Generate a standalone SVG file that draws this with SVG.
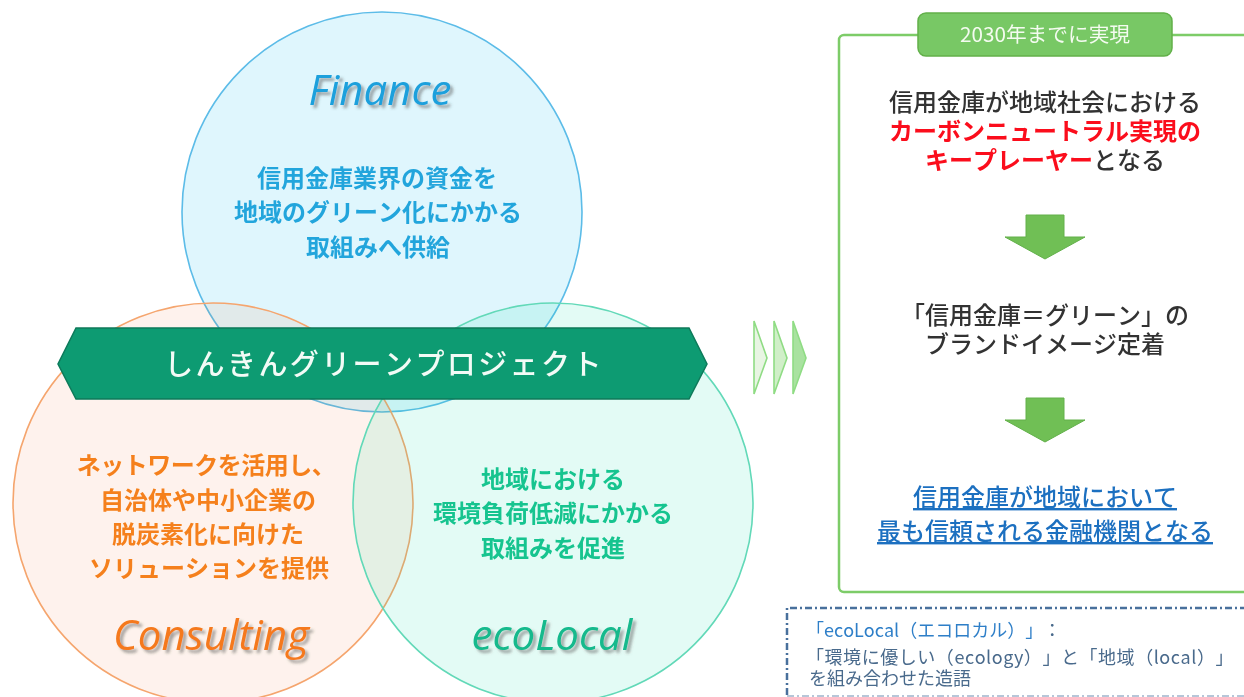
<svg xmlns="http://www.w3.org/2000/svg" width="1244" height="697" viewBox="0 0 1244 697">
<defs>
<filter id="soft" x="-5%" y="-5%" width="110%" height="110%"><feGaussianBlur stdDeviation="0.55"/></filter>
<filter id="shadow" x="-20%" y="-30%" width="140%" height="170%"><feDropShadow dx="3" dy="3" stdDeviation="1.5" flood-color="#555" flood-opacity="0.55"/></filter>
<polygon id="down" points="-19,0 19,0 19,22 40,22 0,44 -40,22 -19,22"/>
</defs>
<style>
text{font-family:"Noto Sans CJK JP","Noto Sans",sans-serif;text-anchor:middle;font-kerning:none;text-spacing-trim:space-all}
.c{font-size:24px;font-weight:700}
.logo{font-family:"Open Sans","Noto Sans",sans-serif;font-size:42px;font-style:italic;font-weight:400;filter:url(#shadow)}
.b{font-size:24px;font-weight:500;fill:#333}
.l{font-size:24px;font-weight:500;fill:#1c6fc0;text-decoration:underline}
.n{font-size:18px;fill:#4a6a8c;text-anchor:start}
.arrow{fill:#70bf55;stroke:#62b04a;stroke-width:1}
.chev{stroke:#8fdc84;stroke-width:1.6}
</style>
<g filter="url(#soft)">
<g id="finance">
<circle cx="382" cy="212" r="200" fill="#00b4f0" fill-opacity="0.125" stroke="#5cbce8" stroke-width="1.6"/>
<text class="logo" x="380" y="105" fill="#1ca0dc">Finance</text>
<text class="c" fill="#22a5dc" x="377" y="187">信用金庫業界の資金を</text>
<text class="c" fill="#22a5dc" x="378" y="221">地域のグリーン化にかかる</text>
<text class="c" fill="#22a5dc" x="378" y="256">取組みへ供給</text>
</g>
<g id="consulting">
<circle cx="213" cy="503" r="200" fill="#f97a28" fill-opacity="0.09" stroke="#f5a56e" stroke-width="1.6"/>
<text class="logo" x="211" y="650" fill="#f5791f">Consulting</text>
<text class="c" fill="#f5801f" x="206" y="474" letter-spacing="-0.5">ネットワークを活用し、</text>
<text class="c" fill="#f5801f" x="208" y="509">自治体や中小企業の</text>
<text class="c" fill="#f5801f" x="208" y="543">脱炭素化に向けた</text>
<text class="c" fill="#f5801f" x="209" y="577">ソリューションを提供</text>
</g>
<g id="ecolocal">
<circle cx="553" cy="503" r="200" fill="#10d8a8" fill-opacity="0.11" stroke="#62d9b8" stroke-width="1.6"/>
<text class="logo" x="552" y="650" fill="#12b98c">ecoLocal</text>
<text class="c" fill="#14c48f" x="553" y="488">地域における</text>
<text class="c" fill="#14c48f" x="553" y="522">環境負荷低減にかかる</text>
<text class="c" fill="#14c48f" x="553" y="557">取組みを促進</text>
</g>
<g id="project">
<polygon points="76,328 689,328 707,364 689,399 76,399 58,364" fill="#0e9b72" stroke="#0b7a5a" stroke-width="1.5"/>
<text x="384" y="375" fill="#f2fbf6" font-size="29" font-weight="500" letter-spacing="2.4">しんきんグリーンプロジェクト</text>
</g>
<g id="chevrons">
<polygon class="chev" points="754,321 767,358 754,394" fill="#e8f5e3"/>
<polygon class="chev" points="774,321 787,358 774,394" fill="#d0efc8"/>
<polygon class="chev" points="793,321 806,358 793,394" fill="#a9e2a0"/>
</g>
<g id="goal">
<path d="M1246,35H844a5,5 0 0 0-5,5V587a5,5 0 0 0 5,5H1246" fill="#fff" stroke="#7dcc68" stroke-width="2.5"/>
<rect x="918" y="13" width="254" height="43" rx="8" fill="#78c865" stroke="#62b04a" stroke-width="1.5"/>
<text x="1045" y="42" fill="#f4fbf0" font-size="20.7">2030年までに実現</text>
<text class="b" x="1045" y="111">信用金庫が地域社会における</text>
<text x="1045" y="140" font-size="24" font-weight="700" fill="#fb0d1b">カーボンニュートラル実現の</text>
<text class="b" x="1045" y="169"><tspan font-weight="700" fill="#fb0d1b">キープレーヤー</tspan>となる</text>
<use href="#down" x="1045" y="215" class="arrow"/>
<text class="b" x="1045" y="324">「信用金庫＝グリーン」の</text>
<text class="b" x="1045" y="353">ブランドイメージ定着</text>
<use href="#down" x="1045" y="398" class="arrow"/>
<text class="l" x="1045" y="506">信用金庫が地域において</text>
<text class="l" x="1045" y="540">最も信頼される金融機関となる</text>
</g>
<g id="note">
<path d="M787,695V608H1246" fill="none" stroke="#4a6f9c" stroke-width="2.5" stroke-dasharray="7 3 2 3"/>
<path d="M787,696H1246" fill="none" stroke="#9fb4cc" stroke-width="1.5" stroke-dasharray="7 3 2 3"/>
<text class="n" x="806" y="637"><tspan fill="#2f7fc8">「ecoLocal（エコロカル）」</tspan>：</text>
<text class="n" x="806" y="664" letter-spacing="0.55">「環境に優しい（ecology）」と「地域（local）」</text>
<text class="n" x="809" y="685">を組み合わせた造語</text>
</g>
</g>
</svg>
